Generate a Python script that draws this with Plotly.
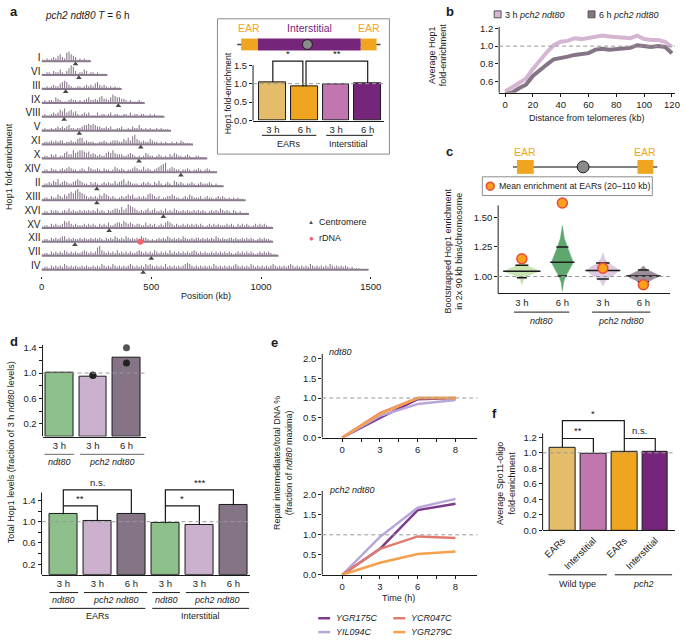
import numpy as np
import plotly.graph_objects as go

W, H = 685, 643
FONT = "Liberation Sans, Arial, Helvetica, sans-serif"
BLACK = "#1a1a1a"

def fx(p):
    return p / W

def fy(p):
    return 1 - p / H

# ----------------------------- data: panel a -----------------------------
chrom_names = ["I", "VI", "III", "IX", "VIII", "V", "XI", "X", "XIV", "II",
               "XIII", "XVI", "XV", "XII", "VII", "IV"]
chrom_len_kb = [225, 300, 365, 470, 560, 590, 690, 755, 800, 830, 930, 945,
                1055, 1055, 1080, 1490]
centromere_kb = [155, 170, 110, 350, 103, 172, 452, 444, 635, 252, 252, 555,
                 308, 152, 500, 463]
rdna_chrom = "XII"
rdna_kb = 450
track_bin_kb = 10
hop1_tracks = [
    "1121232453267543121211",
    "112213224213576312243122121110",
    "112123224565321122123232453232121211",
    "12122143211123221212342232453324654433212111210",
    "12112323546345342123231113122123122112213122122112121110",
    "12112123232342212234454543322323112231121322421212112121110",
    "122232323312232245523222112232123332243536743232243221212112121321110",
    "1221323122453364566545343232245464333223432121243221232121324322123211221110",
    "12213221232343221232143223213221243232122343224232123456723432212232122321232110",
    "12232435234322345432213232123232242345243222123232132421232143232122321232223212110",
    "122132243243565786543232324354323212323434223232454323122334322123243222312322123232121212110",
    "12213232123242322323232324232132344353476543232342342232423243223232232323212323243232132121110",
    "1221323223545323222323232132324223443543432332242323123245432322323232323212323232223232132323212323232110",
    "1221323234423232232322323232132324323243232324332121232324323232432232332323232432322332322323232123232210",
    "122132323243232322343232367432323242323232234323232432323242323232323432323223232323232123232323212323232110",
    "12213232324323232232322323243232432323234323232434323232423232323454323232323243232323234323232432323232343232323432323232432323232432323232121110",
]
pos_ticks_kb = [0, 500, 1000, 1500]

# inset of panel a
inset_labels = ["3 h", "6 h", "3 h", "6 h"]
inset_values = [1.04, 0.92, 0.98, 1.02]
inset_colors = ["#e5bc6a", "#efa520", "#c276b0", "#76267a"]
# (x_left, x_right, left_leg_bottom, right_leg_bottom, top, label)
inset_brackets = [(0, 0.95, 1.04, 0.92, 1.61, "*"),
                  (1.05, 3, 0.92, 1.02, 1.61, "**")]

# ----------------------------- data: panel b -----------------------------
dist_kb = [0, 5, 10, 15, 20, 25, 30, 35, 40, 45, 50, 55, 60, 65, 70, 75, 80,
           85, 90, 95, 100, 105, 110, 115, 120]
hop1_3h = [0.48, 0.53, 0.58, 0.63, 0.74, 0.84, 0.93, 1.01, 1.05, 1.06, 1.09,
           1.08, 1.09, 1.11, 1.12, 1.11, 1.10, 1.10, 1.09, 1.12, 1.08, 1.07,
           1.07, 1.05, 0.99]
hop1_6h = [0.45, 0.47, 0.52, 0.56, 0.66, 0.73, 0.79, 0.85, 0.86, 0.88, 0.90,
           0.91, 0.92, 0.96, 0.97, 0.96, 0.97, 0.97, 0.98, 1.01, 1.00, 0.99,
           1.00, 0.99, 0.92]

# ----------------------------- data: panel c -----------------------------
c_labels = ["3 h", "6 h", "3 h", "6 h"]
c_colors = ["#c6e3b1", "#5ea870", "#dccbe0", "#9b8e99"]
c_violin_y = [
    [0.93, 0.98, 1.01, 1.03, 1.045, 1.06, 1.08, 1.11, 1.14],
    [0.875, 0.95, 1.0, 1.06, 1.12, 1.18, 1.25, 1.32, 1.43],
    [0.92, 0.96, 0.99, 1.02, 1.05, 1.08, 1.11, 1.15, 1.20],
    [0.92, 0.95, 0.97, 0.99, 1.005, 1.02, 1.04, 1.06, 1.09],
]
c_violin_hw = [
    [0.0, 0.05, 0.18, 0.35, 0.43, 0.35, 0.20, 0.06, 0.0],
    [0.0, 0.03, 0.08, 0.18, 0.27, 0.20, 0.12, 0.05, 0.0],
    [0.0, 0.06, 0.15, 0.30, 0.40, 0.30, 0.15, 0.05, 0.0],
    [0.0, 0.08, 0.20, 0.33, 0.40, 0.33, 0.18, 0.08, 0.0],
]
c_q_lo = [0.99, 1.005, 0.98, 0.955]
c_median = [1.045, 1.12, 1.05, 1.005]
c_q_hi = [1.095, 1.25, 1.115, 1.055]
c_ear_mean = [1.15, 1.62, 1.07, 0.93]

# ----------------------------- data: panel d -----------------------------
d_top_labels = ["3 h", "3 h", "6 h"]
d_top_values = [1.00, 0.95, 1.25]
d_top_colors = ["#8dc08b", "#ccb1cf", "#857486"]
d_top_dot_bar = [1, 1, 2, 2]
d_top_dot_val = [0.97, 0.96, 1.40, 1.16]
d_top_dot_col = ["#222222", "#222222", "#555555", "#222222"]

d_bot_labels = ["3 h", "3 h", "6 h", "3 h", "3 h", "6 h"]
d_bot_values = [1.14, 1.01, 1.15, 0.97, 0.94, 1.31]
d_bot_colors = ["#8dc08b", "#ccb1cf", "#857486", "#8dc08b", "#ccb1cf", "#857486"]
d_bot_brackets = [(0, 2, 1.30, 1.15, 1.60, "n.s."),
                  (0, 1, 1.14, 1.01, 1.30, "**"),
                  (3, 5, 1.30, 1.31, 1.60, "***"),
                  (3, 4, 0.97, 0.94, 1.30, "*")]

# ----------------------------- data: panel e -----------------------------
time_labels = ["0", "3", "6", "8"]
e_genes = ["YGR175C", "YIL094C", "YCR047C", "YGR279C"]
e_colors = ["#7d3a8c", "#b9a5d9", "#e07b6f", "#f4a04c"]
e_ndt80 = [[0, 0.50, 0.97, 1.00],
           [0, 0.55, 0.85, 0.95],
           [0, 0.62, 1.00, 1.00],
           [0, 0.60, 1.00, 1.00]]
e_pch2 = [[0, 0.65, 1.62, 1.78],
          [0, 0.95, 1.68, 1.90],
          [0, 0.65, 0.96, 0.92],
          [0, 0.30, 0.52, 0.58]]

# ----------------------------- data: panel f -----------------------------
f_labels = ["EARs", "Interstitial", "EARs", "Interstitial"]
f_values = [1.07, 0.99, 1.01, 1.01]
f_colors = ["#e5bc6a", "#c276b0", "#efa520", "#76267a"]
f_brackets = [(0, 2, 1.185, 1.185, 1.414, "*"),
              (0, 1, 1.07, 0.99, 1.185, "**"),
              (2, 3, 1.01, 1.01, 1.185, "n.s.")]

# ----------------------------- figure -----------------------------
fig = go.Figure()
ann = []
shapes = []
TICK = dict(size=9.5, family=FONT, color=BLACK)
LAB = 9


def text(x, y, s, size=LAB, color=BLACK, xanchor="center", yanchor="middle", angle=0):
    ann.append(dict(x=fx(x), y=fy(y), xref="paper", yref="paper", text=s,
                    showarrow=False, font=dict(size=size, color=color, family=FONT),
                    xanchor=xanchor, yanchor=yanchor, textangle=angle))


def line_px(x0, y0, x1, y1, color=BLACK, width=1, dash=None):
    shapes.append(dict(type="line", xref="paper", yref="paper", x0=fx(x0), y0=fy(y0),
                       x1=fx(x1), y1=fy(y1), line=dict(color=color, width=width, dash=dash)))


def rect_px(x0, y0, x1, y1, fill=None, color=BLACK, width=1):
    shapes.append(dict(type="rect", xref="paper", yref="paper", x0=fx(x0), y0=fy(y1),
                       x1=fx(x1), y1=fy(y0), fillcolor=fill if fill else "rgba(0,0,0,0)",
                       line=dict(color=color, width=width)))


def circle_px(cx, cy, r, fill, color=BLACK, width=1):
    shapes.append(dict(type="circle", xref="paper", yref="paper", x0=fx(cx - r), y0=fy(cy + r),
                       x1=fx(cx + r), y1=fy(cy - r), fillcolor=fill,
                       line=dict(color=color, width=width)))


def add_axes(n, xdom, ydom, xrange, yrange, xkw=None, ykw=None):
    s = "" if n == 1 else str(n)
    xa = dict(domain=[fx(xdom[0]), fx(xdom[1])], range=xrange, anchor="y" + s,
              showgrid=False, zeroline=False, showline=True, linecolor=BLACK, linewidth=1,
              ticks="", tickfont=TICK, fixedrange=True)
    ya = dict(domain=[fy(ydom[1]), fy(ydom[0])], range=yrange, anchor="x" + s,
              showgrid=False, zeroline=False, showline=False, ticks="outside", ticklen=3,
              tickcolor=BLACK, tickwidth=1, tickfont=TICK, fixedrange=True)
    if xkw:
        xa.update(xkw)
    if ykw:
        ya.update(ykw)
    fig.update_layout(**{"xaxis" + s: xa, "yaxis" + s: ya})


def yline(n, xpx, y0, y1):
    s = "" if n == 1 else str(n)
    shapes.append(dict(type="line", xref="paper", yref="y" + s, x0=fx(xpx), x1=fx(xpx),
                       y0=y0, y1=y1, line=dict(color=BLACK, width=1)))


def refline(n, v=1.0):
    s = "" if n == 1 else str(n)
    shapes.append(dict(type="line", xref="x" + s + " domain", yref="y" + s, x0=0, x1=1,
                       y0=v, y1=v, layer="above",
                       line=dict(color="#9a9a9a", width=1, dash="4px,3px")))


def brackets_trace(br, n):
    xs, ys = [], []
    for (xl, xr, yl, yr, top, lab) in br:
        xs += [xl, xl, xr, xr, None]
        ys += [yl, top, top, yr, None]
        ann.append(dict(x=(xl + xr) / 2, y=top, xref="x%d" % n, yref="y%d" % n, text=lab,
                        showarrow=False, yanchor="bottom",
                        font=dict(size=9.5, family=FONT, color=BLACK)))
    fig.add_trace(go.Scatter(x=xs, y=ys, mode="lines", line=dict(color=BLACK, width=1.2),
                             xaxis="x%d" % n, yaxis="y%d" % n, hoverinfo="skip",
                             showlegend=False))


# ---------------- panel a: tracks ----------------
n_rows = len(chrom_names)
base_x, base_y, sp_x, sp_y = [], [], [], []
for k, (L, s) in enumerate(zip(chrom_len_kb, hop1_tracks)):
    b = n_rows - 1 - k
    base_x += [0, L, None]
    base_y += [b, b, None]
    for i, ch in enumerate(s):
        v = int(ch)
        if v == 0:
            continue
        xk = i * track_bin_kb + track_bin_kb / 2
        if xk > L:
            break
        sp_x += [xk, xk, None]
        sp_y += [b, b + v * 0.1, None]
TRACK = "#8b7b8e"
fig.add_trace(go.Scatter(x=base_x, y=base_y, mode="lines", line=dict(color=TRACK, width=2),
                         xaxis="x", yaxis="y", hoverinfo="skip", showlegend=False))
fig.add_trace(go.Scatter(x=sp_x, y=sp_y, mode="lines", line=dict(color=TRACK, width=1.1),
                         xaxis="x", yaxis="y", hoverinfo="skip", showlegend=False))
fig.add_trace(go.Scatter(x=centromere_kb, y=[n_rows - 1 - k - 0.2 for k in range(n_rows)],
                         mode="markers", marker=dict(symbol="triangle-up", size=5, color="#4a4a4a"),
                         xaxis="x", yaxis="y", hoverinfo="skip", showlegend=False))
rk = chrom_names.index(rdna_chrom)
fig.add_trace(go.Scatter(x=[rdna_kb], y=[n_rows - 1 - rk], mode="markers",
                         marker=dict(symbol="circle", size=6, color="#f0646e"),
                         xaxis="x", yaxis="y", hoverinfo="skip", showlegend=False))
add_axes(1, (39, 385), (45, 276), [0, 1558], [-0.426, 15.99],
         xkw=dict(showline=False, ticks="outside", ticklen=2, tickcolor=BLACK,
                  tickvals=pos_ticks_kb, ticktext=[str(v) for v in pos_ticks_kb]),
         ykw=dict(ticks="", tickvals=[n_rows - 1 - k + 0.28 for k in range(n_rows)],
                  ticktext=chrom_names, tickfont=dict(size=10, family=FONT, color=BLACK)))
text(5, 9, "<b>a</b>", size=13, xanchor="left")
text(40, 13, "<i>pch2 ndt80 T</i> = 6 h", size=10, xanchor="left")
text(205, 297, "Position (kb)", size=LAB)
text(6, 165, "Hop1 fold-enrichment", size=LAB, angle=-90)
text(312, 222, "▲", size=6, color="#4a4a4a")
text(318, 222, "Centromere", size=LAB, xanchor="left")
text(312, 238, "●", size=8, color="#f0646e")
text(318, 238, "rDNA", size=LAB, xanchor="left")

# ---------------- panel a: inset ----------------
rect_px(217, 16, 391, 153, color="#8c8c8c", width=1)
line_px(237, 42, 382, 42, color="#444444", width=1.5)
rect_px(241, 36, 258, 48, fill="#efa520", color="#efa520", width=0)
rect_px(258, 36, 362, 48, fill="#76267a", color="#76267a", width=0)
rect_px(362, 36, 378, 48, fill="#efa520", color="#efa520", width=0)
circle_px(308, 42, 5, "#8a8a8a", color=BLACK, width=1)
text(249, 25, "EAR", size=10.5, color="#efa520")
text(310, 25, "Interstitial", size=10.5, color="#76267a")
text(370, 25, "EAR", size=10.5, color="#efa520")
fig.add_trace(go.Bar(x=list(range(len(inset_values))), y=inset_values, width=0.84,
                     marker=dict(color=inset_colors, line=dict(color=BLACK, width=1)),
                     xaxis="x2", yaxis="y2", hoverinfo="skip", showlegend=False))
brackets_trace(inset_brackets, 2)
add_axes(2, (253, 385), (52, 119), [-0.625, 3.5], [0, 1.795],
         xkw=dict(tickvals=list(range(4)), ticktext=inset_labels),
         ykw=dict(tickvals=[0, 0.5, 1.0, 1.5], ticktext=["0.0", "0.5", "1.0", "1.5"]))
yline(2, 253, 0, 1.5)
refline(2)
line_px(262, 134, 317, 134)
line_px(327, 134, 374, 134)
text(289, 143, "EARs", size=LAB)
text(350, 143, "Interstitial", size=LAB)
text(228, 91, "Hop1 fold-enrichment", size=8.5, angle=-90)

# ---------------- panel b ----------------
fig.add_trace(go.Scatter(x=dist_kb, y=hop1_3h, mode="lines", line=dict(color="#d6b5d3", width=4),
                         xaxis="x3", yaxis="y3", hoverinfo="skip", showlegend=False))
fig.add_trace(go.Scatter(x=dist_kb, y=hop1_6h, mode="lines", line=dict(color="#857486", width=4),
                         xaxis="x3", yaxis="y3", hoverinfo="skip", showlegend=False))
add_axes(3, (502, 680), (22, 91), [-4.26, 122.2], [0.467, 1.244],
         xkw=dict(ticks="outside", ticklen=3, tickcolor=BLACK,
                  tickvals=[0, 20, 40, 60, 80, 100, 120]),
         ykw=dict(tickvals=[0.6, 0.8, 1.0, 1.2], ticktext=["0.6", "0.8", "1.0", "1.2"]))
yline(3, 502, 0.467, 1.22)
refline(3)
text(452, 9, "<b>b</b>", size=13)
rect_px(497, 8, 504, 15, fill="#d6b5d3", color="#555555")
text(506, 12, "3 h <i>pch2 ndt80</i>", size=LAB, xanchor="left")
rect_px(592, 8, 599, 15, fill="#857486", color="#555555")
text(601, 12, "6 h <i>pch2 ndt80</i>", size=LAB, xanchor="left")
text(591, 116, "Distance from telomeres (kb)", size=LAB)
text(440, 52, "Average Hop1<br>fold-enrichment", size=LAB, angle=-90)

# ---------------- panel c ----------------
c_x = [1, 2, 3, 4]
for cx, ys, hws, col in zip(c_x, c_violin_y, c_violin_hw, c_colors):
    vx = [cx + h for h in hws] + [cx - h for h in hws[::-1]]
    vy = list(ys) + list(ys[::-1])
    fig.add_trace(go.Scatter(x=vx, y=vy, mode="lines", fill="toself", fillcolor=col,
                             line=dict(color=col, width=0.5), xaxis="x4", yaxis="y4",
                             hoverinfo="skip", showlegend=False))
qx, qy = [], []
for cx, ys, hws, lo, md, hi in zip(c_x, c_violin_y, c_violin_hw, c_q_lo, c_median, c_q_hi):
    for q in (lo, md, hi):
        hl = max(float(np.interp(q, ys, hws)) + 0.03, 0.1)
        qx += [cx - hl, cx + hl, None]
        qy += [q, q, None]
fig.add_trace(go.Scatter(x=qx, y=qy, mode="lines", line=dict(color=BLACK, width=1.5),
                         xaxis="x4", yaxis="y4", hoverinfo="skip", showlegend=False))
fig.add_trace(go.Scatter(x=c_x, y=c_ear_mean, mode="markers", cliponaxis=False,
                         marker=dict(size=10, color="#f7a21b", line=dict(color="#ec4b3c", width=1.5)),
                         xaxis="x4", yaxis="y4", hoverinfo="skip", showlegend=False))
add_axes(4, (501, 675), (198, 294), [0.415, 4.66], [0.858, 1.658],
         xkw=dict(tickvals=c_x, ticktext=c_labels),
         ykw=dict(tickvals=[1.0, 1.25, 1.5], ticktext=["1.00", "1.25", "1.50"]))
yline(4, 501, 0.858, 1.6)
refline(4)
text(452, 150, "<b>c</b>", size=13)
line_px(516, 166, 662, 166, color="#555555", width=1.5)
rect_px(520, 159, 537, 173, fill="#efa520", color="#efa520", width=0)
rect_px(642, 159, 658, 173, fill="#efa520", color="#efa520", width=0)
circle_px(587, 166, 6, "#8a8a8a", color=BLACK, width=1)
text(528, 151, "EAR", size=10.5, color="#efa520")
text(650, 151, "EAR", size=10.5, color="#efa520")
rect_px(485, 176, 657, 195, color="#8c8c8c")
circle_px(493, 185.5, 4, "#f7a21b", color="#ec4b3c", width=1.5)
text(500, 185.5, "Mean enrichment at EARs (20–110 kb)", size=8.8, xanchor="left")
line_px(517, 313, 573, 313)
line_px(596, 313, 655, 313)
text(545, 322, "<i>ndt80</i>", size=LAB)
text(625, 322, "<i>pch2 ndt80</i>", size=LAB)
text(456, 251, "Bootstrapped Hop1 enrichment<br>in 2x 90 kb bins/chromosome", size=LAB, angle=-90)

# ---------------- panel d ----------------
fig.add_trace(go.Bar(x=list(range(3)), y=d_top_values, width=0.82,
                     marker=dict(color=d_top_colors, line=dict(color=BLACK, width=1)),
                     xaxis="x5", yaxis="y5", hoverinfo="skip", showlegend=False))
fig.add_trace(go.Scatter(x=d_top_dot_bar, y=d_top_dot_val, mode="markers", cliponaxis=False,
                         marker=dict(size=7, color=d_top_dot_col),
                         xaxis="x5", yaxis="y5", hoverinfo="skip", showlegend=False))
add_axes(5, (40, 145), (346, 439), [-0.5, 2.59], [0, 1.447],
         xkw=dict(tickvals=list(range(3)), ticktext=d_top_labels),
         ykw=dict(tickvals=[0.2, 0.4, 0.6, 0.8, 1.0, 1.2, 1.4],
                  ticktext=["0.2", "", "0.6", "", "1.0", "", "1.4"]))
yline(5, 40, 0, 1.447)
refline(5)
text(5, 343, "<b>d</b>", size=13, xanchor="left")
line_px(42, 457, 72, 457, color="#666666")
line_px(78, 457, 143, 457, color="#666666")
text(57, 465, "<i>ndt80</i>", size=LAB)
text(110, 465, "<i>pch2 ndt80</i>", size=LAB)

fig.add_trace(go.Bar(x=list(range(6)), y=d_bot_values, width=0.81,
                     marker=dict(color=d_bot_colors, line=dict(color=BLACK, width=1)),
                     xaxis="x6", yaxis="y6", hoverinfo="skip", showlegend=False))
brackets_trace(d_bot_brackets, 6)
add_axes(6, (39, 250), (486, 579), [-0.64, 5.49], [0, 1.73],
         xkw=dict(tickvals=list(range(6)), ticktext=d_bot_labels),
         ykw=dict(tickvals=[0.2, 0.4, 0.6, 0.8, 1.0, 1.2, 1.4],
                  ticktext=["0.2", "", "0.6", "", "1.0", "", "1.4"]))
yline(6, 39, 0, 1.55)
refline(6)
line_px(47, 597, 76, 597)
line_px(82, 597, 146, 597)
line_px(151, 597, 179, 597)
line_px(185, 597, 249, 597)
text(61, 605, "<i>ndt80</i>", size=LAB)
text(114, 605, "<i>pch2 ndt80</i>", size=LAB)
text(165, 605, "<i>ndt80</i>", size=LAB)
text(217, 605, "<i>pch2 ndt80</i>", size=LAB)
line_px(47, 613, 144, 613)
line_px(151, 613, 249, 613)
text(96, 621, "EARs", size=LAB)
text(200, 621, "Interstitial", size=LAB)
text(8, 455, "Total Hop1 levels (fraction of 3 h <i>ndt80</i> levels)", size=LAB, angle=-90)

# ---------------- panel e ----------------
tpos = list(range(len(time_labels)))
for gi in range(len(e_genes)):
    fig.add_trace(go.Scatter(x=tpos, y=e_ndt80[gi], mode="lines",
                             line=dict(color=e_colors[gi], width=2.5),
                             xaxis="x7", yaxis="y7", hoverinfo="skip", showlegend=False))
    fig.add_trace(go.Scatter(x=tpos, y=e_pch2[gi], mode="lines",
                             line=dict(color=e_colors[gi], width=2.5),
                             xaxis="x8", yaxis="y8", hoverinfo="skip", showlegend=False))
e_tickvals = [0, 0.5, 1, 1.5, 2, 2.5, 3]
e_ticktext = [time_labels[0], "", time_labels[1], "", time_labels[2], "", time_labels[3]]
for n, ydom, yr in ((7, (355, 440), [0, 2.125]), (8, (494, 579), [0, 2.1])):
    add_axes(n, (323, 480), ydom, [-0.53, 3.58], yr,
             xkw=dict(ticks="outside", ticklen=3, tickcolor=BLACK,
                      tickvals=e_tickvals, ticktext=e_ticktext),
             ykw=dict(tickvals=[0, 0.5, 1.0, 1.5, 2.0],
                      ticktext=["0.0", "0.5", "1.0", "1.5", "2.0"]))
    yline(n, 323, 0, yr[1])
    refline(n)
text(275, 344, "<b>e</b>", size=13)
text(328, 353, "<i>ndt80</i>", size=LAB, xanchor="left")
text(328, 493, "<i>pch2 ndt80</i>", size=LAB, xanchor="left")
text(400, 602, "Time (h)", size=LAB)
text(284, 466, "Repair intermediates/total DNA %<br>(fraction of <i>ndt80</i> maxima)", size=LAB, angle=-90)
leg_pos = [(319, 623), (319, 637), (395, 623), (395, 637)]
for (lx, ly), g, col in zip(leg_pos, e_genes, e_colors):
    line_px(lx, ly, lx + 12, ly, color=col, width=2.5)
    text(lx + 16, ly, "<i>%s</i>" % g, size=LAB, xanchor="left")

# ---------------- panel f ----------------
fig.add_trace(go.Bar(x=list(range(4)), y=f_values, width=0.83,
                     marker=dict(color=f_colors, line=dict(color=BLACK, width=1)),
                     xaxis="x9", yaxis="y9", hoverinfo="skip", showlegend=False))
brackets_trace(f_brackets, 9)
add_axes(9, (546, 680), (416, 534), [-0.64, 3.64], [0, 1.503],
         xkw=dict(tickvals=list(range(4)), ticktext=f_labels, tickangle=-45),
         ykw=dict(tickvals=[0, 0.2, 0.4, 0.6, 0.8, 1.0, 1.2],
                  ticktext=["0.0", "0.2", "0.4", "0.6", "0.8", "1.0", "1.2"]))
yline(9, 546, 0, 1.25)
refline(9)
text(497, 416, "<b>f</b>", size=13)
line_px(552, 579, 611, 579)
line_px(619, 579, 677, 579)
text(581, 588, "Wild type", size=LAB)
text(648, 588, "<i>pch2</i>", size=LAB)
text(509, 487, "Average Spo11-oligo<br>fold-enrichment", size=LAB, angle=-90)

fig.update_layout(width=W, height=H, margin=dict(l=0, r=0, t=0, b=0),
                  paper_bgcolor="white", plot_bgcolor="rgba(0,0,0,0)",
                  font=dict(family=FONT, size=9, color=BLACK),
                  annotations=ann, shapes=shapes, showlegend=False, bargap=0)
fig.write_html("out.html", config={"displayModeBar": False},
               post_script="document.body.style.margin='0px';document.body.style.overflow='hidden';")
